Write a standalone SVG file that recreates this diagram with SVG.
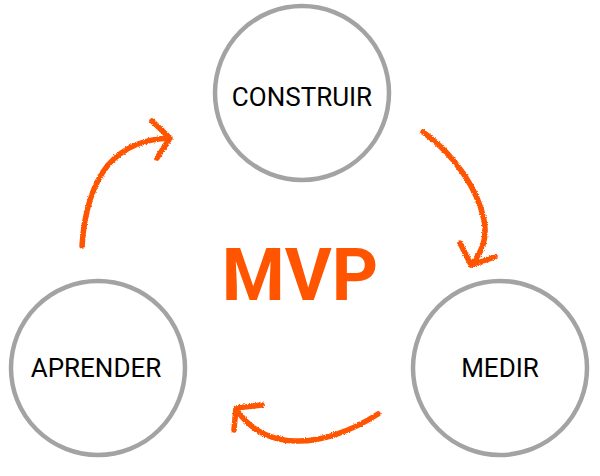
<svg xmlns="http://www.w3.org/2000/svg" width="600" height="476" viewBox="0 0 600 476">
<defs>
<filter id="rough" x="-10%" y="-10%" width="120%" height="120%">
<feTurbulence type="fractalNoise" baseFrequency="0.9" numOctaves="2" seed="3" result="n"/>
<feDisplacementMap in="SourceGraphic" in2="n" scale="3" xChannelSelector="R" yChannelSelector="G"/>
</filter>
</defs>
<style>
.node circle{fill:#fff;stroke:#a3a3a3;stroke-width:4.5}
.node text{font-family:Roboto,"Liberation Sans",sans-serif;font-size:26px;fill:#000;text-anchor:middle}
.arr{fill:none;stroke:#ff5500;stroke-width:5.5;stroke-linecap:round;stroke-linejoin:round;filter:url(#rough)}
.title{font-family:Roboto,"Liberation Sans",sans-serif;font-weight:bold;font-size:72px;fill:#ff5500;text-anchor:middle}
</style>
<rect width="600" height="476" fill="#fff"/>
<g id="construir" class="node"><circle cx="302" cy="93" r="87"/><text x="302" y="106">CONSTRUIR</text></g>
<g id="medir" class="node"><circle cx="500" cy="368" r="87"/><text x="500" y="377">MEDIR</text></g>
<g id="aprender" class="node"><circle cx="98" cy="368" r="87"/><text x="96" y="377">APRENDER</text></g>
<text id="mvp" class="title" x="300" y="300">MVP</text>
<g id="connectors">
<path class="arr" d="M423,132 C455,155 478,190 484,220 C488,240 480,255 471,265 M460,243 L471,265 L495,257"/>
<path class="arr" d="M378,414 C350,432 320,442 295,441 C270,440 250,430 236,409 M262,405 L236,408 L234,430"/>
<path class="arr" d="M82,246 C84,215 92,185 108,165 C125,146 145,139 170,138 M152,121 L170,138 L157,158"/>
</g>
</svg>
